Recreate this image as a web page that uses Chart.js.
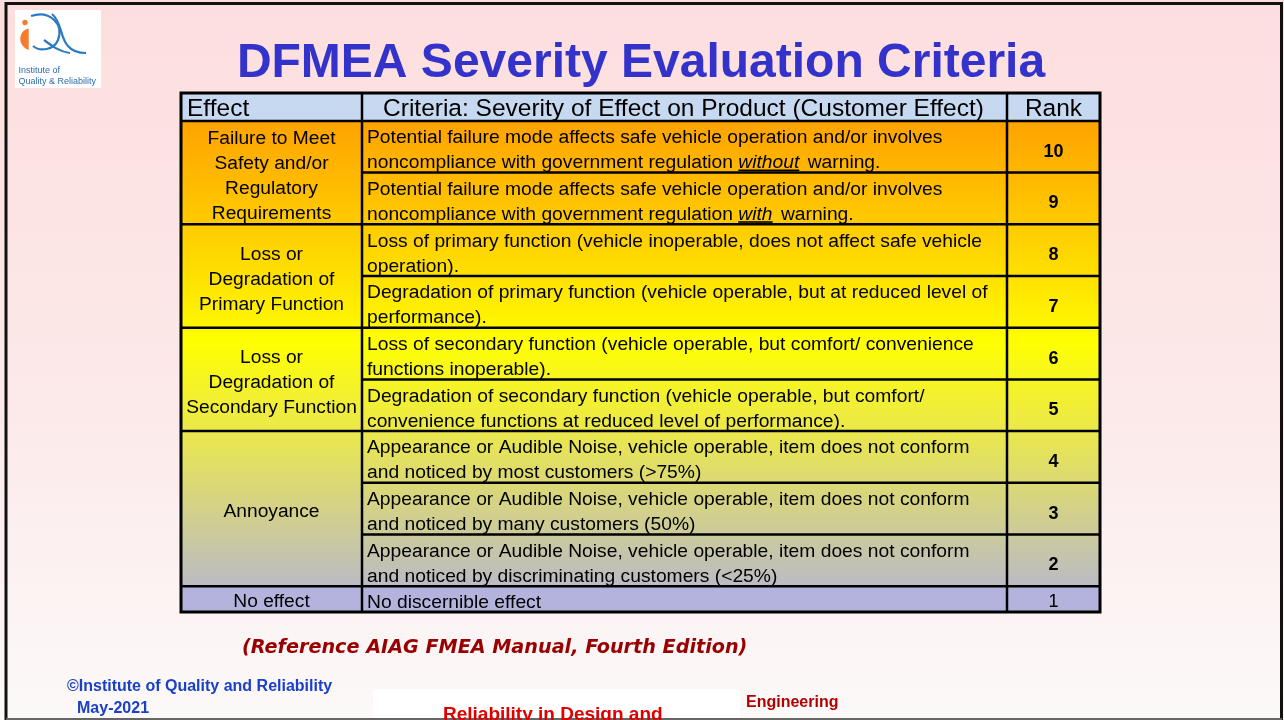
<!DOCTYPE html>
<html>
<head>
<meta charset="utf-8">
<title>DFMEA Severity Evaluation Criteria</title>
<script src="https://cdn.jsdelivr.net/npm/chart.js@4.4.1/dist/chart.umd.min.js"></script>
<style>
    html, body { margin: 0; padding: 0; background: #fff; overflow: hidden; }
    #chart { display: block; }
</style>
</head>
<body>
<canvas id="chart" width="1284" height="720"></canvas>
<script>
// table content
const headers = ['Effect', 'Criteria: Severity of Effect on Product (Customer Effect)', 'Rank'];
const effectGroups = [
    ['Failure to Meet', 'Safety and/or', 'Regulatory', 'Requirements'],
    ['Loss or', 'Degradation of', 'Primary Function'],
    ['Loss or', 'Degradation of', 'Secondary Function'],
    ['Annoyance'],
    ['No effect']
];
const groupSizes = [2, 2, 2, 3, 1];
// *word* = italic + underlined
const criteria = [
    ['Potential failure mode affects safe vehicle operation and/or involves', 'noncompliance with government regulation *without* warning.'],
    ['Potential failure mode affects safe vehicle operation and/or involves', 'noncompliance with government regulation *with* warning.'],
    ['Loss of primary function (vehicle inoperable, does not affect safe vehicle', 'operation).'],
    ['Degradation of primary function (vehicle operable, but at reduced level of', 'performance).'],
    ['Loss of secondary function (vehicle operable, but comfort/ convenience', 'functions inoperable).'],
    ['Degradation of secondary function (vehicle operable, but comfort/', 'convenience functions at reduced level of performance).'],
    ['Appearance or Audible Noise, vehicle operable, item does not conform', 'and noticed by most customers (>75%)'],
    ['Appearance or Audible Noise, vehicle operable, item does not conform', 'and noticed by many customers (50%)'],
    ['Appearance or Audible Noise, vehicle operable, item does not conform', 'and noticed by discriminating customers (<25%)'],
    ['No discernible effect']
];
const ranks = [10, 9, 8, 7, 6, 5, 4, 3, 2, 1];

const titleText = 'DFMEA Severity Evaluation Criteria';
const sourceNote = '(Reference AIAG FMEA Manual, Fourth Edition)';

// layout / style
const FONT = '"Liberation Sans", Arial, sans-serif';
const colWidths = [181, 645, 93];
const headerUnits = 1.08;
const rowLines = criteria.map(c => c.length);
const totalLines = headerUnits + rowLines.reduce((a, b) => a + b, 0);

function drawLogo(ctx){
    ctx.save();
    ctx.fillStyle = '#ffffff';
    ctx.fillRect(15, 10, 86, 78);

    ctx.fillStyle = '#f47c2a';
    ctx.beginPath();
    ctx.arc(25, 22.5, 2.7, 0, 2 * Math.PI);
    ctx.fill();
    ctx.beginPath();
    ctx.moveTo(28.7, 28.5);
    ctx.bezierCurveTo(19, 30, 16, 45, 28.7, 50);
    ctx.closePath();
    ctx.fill();

    ctx.strokeStyle = '#2b7bc0';
    ctx.lineWidth = 2.2;
    ctx.beginPath();
    ctx.moveTo(31, 16);
    ctx.bezierCurveTo(50, 10, 64, 24, 58, 40);
    ctx.bezierCurveTo(54, 50, 40, 52, 33, 46);
    ctx.stroke();
    ctx.beginPath();
    ctx.moveTo(44, 40);
    ctx.bezierCurveTo(52, 46, 60, 52, 70, 53);
    ctx.stroke();
    ctx.beginPath();
    ctx.moveTo(52, 14);
    ctx.bezierCurveTo(62, 22, 60, 38, 68, 46);
    ctx.bezierCurveTo(72, 51, 78, 53, 86, 53);
    ctx.stroke();

    ctx.fillStyle = '#2e6fb0';
    ctx.font = '9px ' + FONT;
    ctx.textAlign = 'left';
    ctx.textBaseline = 'middle';
    ctx.fillText('Institute of', 18.5, 70.5);
    ctx.fillText('Quality & Reliability', 18.5, 81.5);
    ctx.restore();
}

function drawRich(ctx, text, x, y, size){
    const parts = text.split('*');
    let cx = x;
    parts.forEach((p, i) => {
        const em = i % 2 === 1;
        ctx.font = (em ? 'italic ' : '') + size + 'px ' + FONT;
        ctx.fillText(p, cx, y);
        const w = ctx.measureText(p).width;
        if(em){
            ctx.fillRect(cx, y + 6.6, w, 1.6);
            cx += 3;
        }
        cx += w;
    });
}

const slidePlugin = {
    id: 'slide',
    beforeDraw(chart){
        const ctx = chart.ctx;
        const W = chart.width, H = chart.height;
        ctx.save();
        const bg = ctx.createLinearGradient(0, 0, 0, H);
        bg.addColorStop(0, '#fddede');
        bg.addColorStop(0.55, '#fce9e9');
        bg.addColorStop(1, '#fcf9f9');
        ctx.fillStyle = bg;
        ctx.fillRect(0, 0, W, H);

        // frame
        ctx.strokeStyle = '#111';
        ctx.lineWidth = 3;
        ctx.beginPath();
        ctx.moveTo(6, 720);
        ctx.lineTo(6, 3.5);
        ctx.lineTo(1281.5, 3.5);
        ctx.lineTo(1281.5, 720);
        ctx.stroke();
        ctx.strokeStyle = '#666';
        ctx.lineWidth = 2;
        ctx.beginPath();
        ctx.moveTo(6, 719);
        ctx.lineTo(1282, 719);
        ctx.stroke();

        drawLogo(ctx);

        ctx.fillStyle = '#3333cc';
        ctx.font = 'bold 48px ' + FONT;
        ctx.textAlign = 'center';
        ctx.textBaseline = 'alphabetic';
        ctx.fillText(titleText, 641, 77);

        // footer
        ctx.fillStyle = '#990000';
        ctx.font = 'italic bold 19.2px "DejaVu Sans", sans-serif';
        ctx.textAlign = 'left';
        ctx.textBaseline = 'middle';
        ctx.fillText(sourceNote, 242, 648);

        ctx.fillStyle = '#1a40c8';
        ctx.font = 'bold 16px ' + FONT;
        ctx.fillText('\u00A9Institute of Quality and Reliability', 67, 687);
        ctx.fillText('May-2021', 77, 709);

        ctx.fillStyle = '#ffffff';
        ctx.fillRect(373, 689, 367, 29);
        ctx.fillStyle = '#e00000';
        ctx.font = 'bold 19px ' + FONT;
        ctx.textBaseline = 'alphabetic';
        ctx.fillText('Reliability in Design and', 443, 720);
        ctx.fillStyle = '#b00000';
        ctx.font = 'bold 16px ' + FONT;
        ctx.textBaseline = 'middle';
        ctx.fillText('Engineering', 746, 703);
        ctx.restore();
    },
    afterDraw(chart){
        const ctx = chart.ctx;
        const xs = chart.scales.x, ys = chart.scales.y;
        const unit = Math.abs(ys.getPixelForValue(1) - ys.getPixelForValue(0));

        const colEdges = [0];
        colWidths.forEach(w => colEdges.push(colEdges[colEdges.length - 1] + w));
        const X = colEdges.map(v => xs.getPixelForValue(v));

        const rowStart = [headerUnits];
        rowLines.forEach(n => rowStart.push(rowStart[rowStart.length - 1] + n));
        const Y = rowStart.map(v => ys.getPixelForValue(v));
        const top = ys.getPixelForValue(0);
        const last = ranks.length - 1;

        ctx.save();
        // header
        ctx.fillStyle = '#c6d9f1';
        ctx.fillRect(X[0], top, X[3] - X[0], Y[0] - top);

        // body gradient
        const g = ctx.createLinearGradient(0, Y[0], 0, Y[last]);
        g.addColorStop(0, '#ffa300');
        g.addColorStop(0.222, '#ffcb00');
        g.addColorStop(0.44, '#fff600');
        g.addColorStop(0.47, '#ffff00');
        g.addColorStop(0.667, '#ebe84c');
        g.addColorStop(1, '#bbbbc4');
        ctx.fillStyle = g;
        ctx.fillRect(X[0], Y[0], X[3] - X[0], Y[last] - Y[0]);
        ctx.fillStyle = '#b3b3dd';
        ctx.fillRect(X[0], Y[last], X[3] - X[0], Y[last + 1] - Y[last]);

        // text
        ctx.fillStyle = '#000';
        ctx.textBaseline = 'middle';
        ctx.font = '24.5px ' + FONT;
        const hy = (top + Y[0]) / 2 + 2;
        ctx.textAlign = 'left';
        ctx.fillText(headers[0], X[0] + 6, hy);
        ctx.textAlign = 'center';
        ctx.fillText(headers[1], (X[1] + X[2]) / 2 - 1, hy);
        ctx.fillText(headers[2], (X[2] + X[3]) / 2, hy);

        // effect groups
        ctx.font = '19.2px ' + FONT;
        let r = 0;
        const groupBounds = [];
        effectGroups.forEach((lines, gi) => {
            const y0 = Y[r], y1 = Y[r + groupSizes[gi]];
            groupBounds.push(y1);
            const cy = (y0 + y1) / 2 + (groupSizes[gi] > 1 ? 3.5 : 3);
            const step = 25;
            lines.forEach((t, k) => {
                ctx.fillText(t, (X[0] + X[1]) / 2, cy + (k - (lines.length - 1) / 2) * step);
            });
            r += groupSizes[gi];
        });

        // criteria
        ctx.textAlign = 'left';
        criteria.forEach((lines, i) => {
            lines.forEach((t, k) => {
                const y = lines.length > 1 ? Y[i] + 17 + 25 * k : Y[i] + 0.5 * unit + 4;
                drawRich(ctx, t, X[1] + 5, y, 19.25);
            });
        });

        // ranks
        ctx.textAlign = 'center';
        ranks.forEach((v, i) => {
            ctx.font = (v > 1 ? 'bold 18px ' : '18px ') + FONT;
            ctx.fillText(String(v), (X[2] + X[3]) / 2, (Y[i] + Y[i + 1]) / 2 + (v > 1 ? 5 : 3));
        });

        // grid lines
        ctx.strokeStyle = '#000';
        ctx.lineWidth = 2.5;
        ctx.beginPath();
        ctx.moveTo(X[0], Y[0]); ctx.lineTo(X[3], Y[0]);
        groupBounds.slice(0, -1).forEach(y => { ctx.moveTo(X[0], y); ctx.lineTo(X[1], y); });
        for(let i = 1; i <= last; i++){
            ctx.moveTo(X[1], Y[i]); ctx.lineTo(X[3], Y[i]);
        }
        ctx.moveTo(X[1], top); ctx.lineTo(X[1], Y[last + 1]);
        ctx.moveTo(X[2], top); ctx.lineTo(X[2], Y[last + 1]);
        ctx.stroke();
        ctx.lineWidth = 3;
        ctx.strokeRect(X[0], top, X[3] - X[0], Y[last + 1] - top);
        ctx.restore();
    }
};

new Chart(document.getElementById('chart'), {
    type: 'scatter',
    data: { datasets: [{ data: [] }] },
    options: {
        responsive: false,
        animation: false,
        events: [],
        layout: { padding: { left: 181, top: 93, right: 184, bottom: 108 } },
        plugins: {
            legend: { display: false },
            tooltip: { enabled: false },
            title: { display: false }
        },
        scales: {
            x: { type: 'linear', display: false, min: 0, max: colWidths.reduce((a, b) => a + b, 0) },
            y: { type: 'linear', display: false, min: 0, max: totalLines, reverse: true }
        }
    },
    plugins: [slidePlugin]
});
</script>
</body>
</html>
